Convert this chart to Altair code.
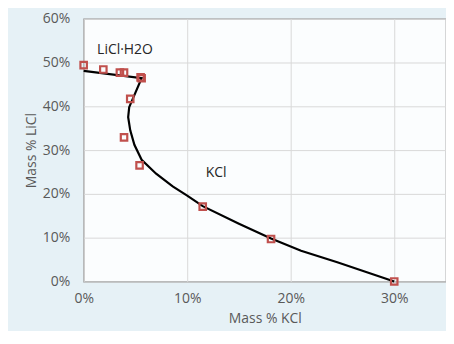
import altair as alt
import pandas as pd

# measured points (Mass % KCl, Mass % LiCl)
pt_kcl = [0.0, 1.9, 3.5, 3.9, 5.5, 5.6, 4.5, 3.9, 5.4, 11.5, 18.1, 30.0]
pt_licl = [49.4, 48.4, 47.7, 47.7, 46.6, 46.4, 41.7, 32.9, 26.5, 17.1, 9.7, 0.0]

# solubility curve
ln_kcl = [0.0, 5.6, 4.4, 4.3, 4.5, 4.9, 5.6, 7.0, 8.6, 10.0, 11.5, 15.0, 18.1, 21.0, 24.5, 30.0]
ln_licl = [48.1, 46.4, 39.8, 37.5, 34.5, 31.2, 27.8, 24.6, 21.7, 19.6, 17.2, 13.2, 9.8, 7.0, 4.4, 0.0]

labels_txt = ["LiCl·H2O", "KCl"]
labels_x = [1.3, 11.8]
labels_y = [52.8, 24.8]

pts = pd.DataFrame({"k": pt_kcl, "l": pt_licl})
ln = pd.DataFrame({"k": ln_kcl, "l": ln_licl, "o": list(range(len(ln_kcl)))})
lab = pd.DataFrame({"t": labels_txt, "k": labels_x, "l": labels_y})

FONT = "Open Sans"
GRAY = "#595959"

x = alt.X("k:Q", title="Mass % KCl",
          scale=alt.Scale(domain=[0, 35], nice=False),
          axis=alt.Axis(values=[0, 10, 20, 30], labelExpr="datum.value + '%'",
                        grid=True, gridColor="#d9d9d9", domain=False, ticks=False,
                        labelFlush=False,
                        labelPadding=10, titlePadding=6, labelFontSize=14, titleFontSize=14,
                        labelColor=GRAY, titleColor=GRAY, labelFont=FONT, titleFont=FONT,
                        titleFontWeight="normal"))
y = alt.Y("l:Q", title="Mass % LiCl",
          scale=alt.Scale(domain=[0, 60], nice=False),
          axis=alt.Axis(values=[0, 10, 20, 30, 40, 50, 60], labelExpr="datum.value + '%'",
                        grid=True, gridColor="#d9d9d9", domain=False, ticks=False,
                        labelFlush=False,
                        labelPadding=14, titlePadding=4, labelFontSize=14, titleFontSize=14,
                        labelColor=GRAY, titleColor=GRAY, labelFont=FONT, titleFont=FONT,
                        titleFontWeight="normal"))

line = alt.Chart(ln).mark_line(color="black", strokeWidth=2.2).encode(x=x, y=y, order="o:Q")
points = alt.Chart(pts).mark_square(size=42, filled=False, stroke="#c0504d",
                                    strokeWidth=2.2, opacity=1).encode(x=x, y=y)
texts = alt.Chart(lab).mark_text(align="left", baseline="middle", font=FONT,
                                 fontSize=14, color="#262626").encode(x=x, y=y, text="t:N")

chart = alt.layer(line, points, texts).properties(
    width=364, height=264,
    background="#e6f1f6",
    padding={"left": 76, "top": 10, "right": 0, "bottom": 49},
    autosize=alt.AutoSizeParams(type="none"),
).configure_view(fill="#fbfdfe", stroke="#7f7f7f", strokeWidth=1.2)

chart.save("out.html", embed_options={"renderer": "svg", "actions": False})
